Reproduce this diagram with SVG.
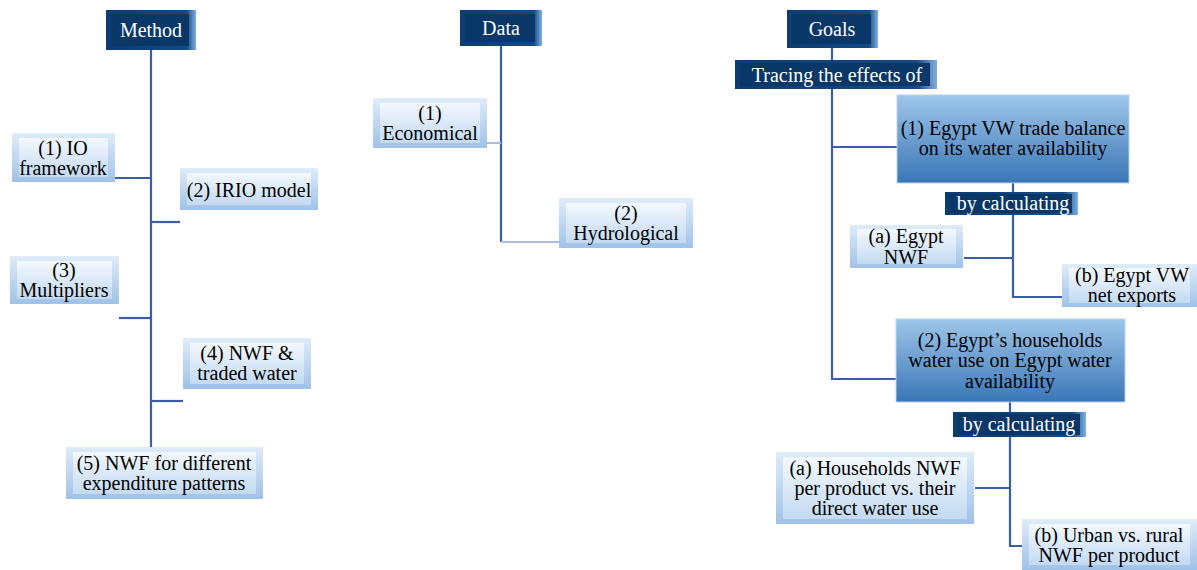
<svg xmlns="http://www.w3.org/2000/svg" width="1197" height="570" viewBox="0 0 1197 570" font-family="'Liberation Serif', 'DejaVu Serif', serif">
<defs>
<linearGradient id="lightOuter" x1="0" y1="0" x2="0" y2="1">
<stop offset="0" stop-color="#dfecf9"/><stop offset="1" stop-color="#9fc2e8"/>
</linearGradient>
<linearGradient id="lightInner" x1="0" y1="0" x2="0" y2="1">
<stop offset="0" stop-color="#f3f8fe"/><stop offset="1" stop-color="#c3daf2"/>
</linearGradient>
<linearGradient id="bigGrad" x1="0" y1="0" x2="0" y2="1">
<stop offset="0" stop-color="#9fc6ea"/><stop offset="1" stop-color="#3a76b6"/>
</linearGradient>
<linearGradient id="darkOuter" x1="0" y1="0" x2="1" y2="0">
<stop offset="0" stop-color="#0d3c70"/><stop offset="0.9" stop-color="#134a85"/><stop offset="1" stop-color="#7fb0e0"/>
</linearGradient>
</defs>
<style>
.light .o{fill:url(#lightOuter);}
.light .i{fill:url(#lightInner);}
.dark .o{fill:url(#darkOuter);}
.dark .i{fill:#093768;}
.big{fill:url(#bigGrad);stroke:#b9d3ec;stroke-width:1;}
text{font-family:'Liberation Serif', serif;font-size:20px;text-anchor:middle;fill:#000;}
.dark text{fill:#fff;}
.c{stroke:#3b5ea6;stroke-width:2.2;fill:none;}
.cl{stroke:#aebddb;stroke-width:2;fill:none;}
</style>
<g id="connectors">
<path class="c" d="M151 50V447"/>
<path class="c" d="M115 178H151"/>
<path class="c" d="M151 222H180"/>
<path class="c" d="M119 318H151"/>
<path class="c" d="M151 401H183"/>
<path class="c" d="M501 46V242"/>
<path class="cl" d="M487 143H501"/>
<path class="cl" d="M501 242H559"/>
<path class="c" d="M832 48V60"/>
<path class="c" d="M832 89V379H896"/>
<path class="c" d="M832 147H897"/>
<path class="c" d="M1013 183V192"/>
<path class="c" d="M1013 215V297H1062"/>
<path class="c" d="M964 258H1013"/>
<path class="c" d="M1010 402V412"/>
<path class="c" d="M1010 437V546H1022"/>
<path class="c" d="M975 488H1010"/>
</g>
<g id="method" class="dark"><rect class="o" x="106" y="10" width="90" height="40"/><rect class="i" x="111" y="14" width="78" height="32"/><text x="151" y="37">Method</text></g>
<g id="m1" class="light"><rect class="o" x="12" y="133" width="103" height="49"/><rect class="i" x="19" y="138" width="89" height="39"/><text x="63" y="155">(1) IO</text><text x="63" y="175">framework</text></g>
<g id="m2" class="light"><rect class="o" x="180" y="168" width="138" height="42"/><rect class="i" x="187" y="173" width="124" height="32"/><text x="249" y="197">(2) IRIO model</text></g>
<g id="m3" class="light"><rect class="o" x="10" y="256" width="109" height="48"/><rect class="i" x="17" y="261" width="95" height="38"/><text x="64" y="277">(3)</text><text x="64" y="297">Multipliers</text></g>
<g id="m4" class="light"><rect class="o" x="183" y="338" width="128" height="51"/><rect class="i" x="190" y="343" width="114" height="41"/><text x="247" y="360">(4) NWF &amp;</text><text x="247" y="380">traded water</text></g>
<g id="m5" class="light"><rect class="o" x="66" y="447" width="197" height="52"/><rect class="i" x="73" y="452" width="183" height="42"/><text x="164" y="470">(5) NWF for different</text><text x="164" y="490">expenditure patterns</text></g>
<g id="data" class="dark"><rect class="o" x="460" y="10" width="82" height="36"/><rect class="i" x="465" y="14" width="70" height="28"/><text x="501" y="35">Data</text></g>
<g id="d1" class="light"><rect class="o" x="373" y="98" width="114" height="50"/><rect class="i" x="380" y="103" width="100" height="40"/><text x="430" y="120">(1)</text><text x="430" y="140">Economical</text></g>
<g id="d2" class="light"><rect class="o" x="559" y="198" width="134" height="50"/><rect class="i" x="566" y="203" width="120" height="40"/><text x="626" y="220">(2)</text><text x="626" y="240">Hydrological</text></g>
<g id="goals" class="dark"><rect class="o" x="787" y="10" width="91" height="38"/><rect class="i" x="792" y="14" width="79" height="30"/><text x="832" y="36">Goals</text></g>
<g id="tracing" class="dark"><rect class="o" x="735" y="60" width="202" height="29"/><rect class="i" x="740" y="63" width="190" height="23"/><text x="837" y="82">Tracing the effects of</text></g>
<g id="g1"><rect class="big" x="897" y="95" width="232" height="88"/><text x="1013" y="135">(1) Egypt VW trade balance</text><text x="1013" y="155">on its water availability</text></g>
<g id="bc1" class="dark"><rect class="o" x="945" y="192" width="133" height="23"/><rect class="i" x="949" y="194" width="123" height="19"/><text x="1013" y="210">by calculating</text></g>
<g id="g1a" class="light"><rect class="o" x="850" y="225" width="113" height="43"/><rect class="i" x="857" y="229" width="99" height="35"/><text x="906" y="243">(a) Egypt</text><text x="906" y="264">NWF</text></g>
<g id="g1b" class="light"><rect class="o" x="1062" y="264" width="135" height="43"/><rect class="i" x="1069" y="268" width="121" height="35"/><text x="1132" y="282">(b) Egypt VW</text><text x="1132" y="302">net exports</text></g>
<g id="g2"><rect class="big" x="896" y="319" width="229" height="83"/><text x="1010" y="347">(2) Egypt’s households</text><text x="1010" y="367">water use on Egypt water</text><text x="1010" y="388">availability</text></g>
<g id="bc2" class="dark"><rect class="o" x="953" y="412" width="133" height="25"/><rect class="i" x="957" y="414" width="123" height="21"/><text x="1019" y="431">by calculating</text></g>
<g id="g2a" class="light"><rect class="o" x="776" y="452" width="198" height="72"/><rect class="i" x="783" y="457" width="184" height="62"/><text x="875" y="475">(a) Households NWF</text><text x="875" y="495">per product vs. their</text><text x="875" y="515">direct water use</text></g>
<g id="g2b" class="light"><rect class="o" x="1022" y="519" width="175" height="51"/><rect class="i" x="1029" y="524" width="161" height="41"/><text x="1109" y="542">(b) Urban vs. rural</text><text x="1109" y="562">NWF per product</text></g>
</svg>
